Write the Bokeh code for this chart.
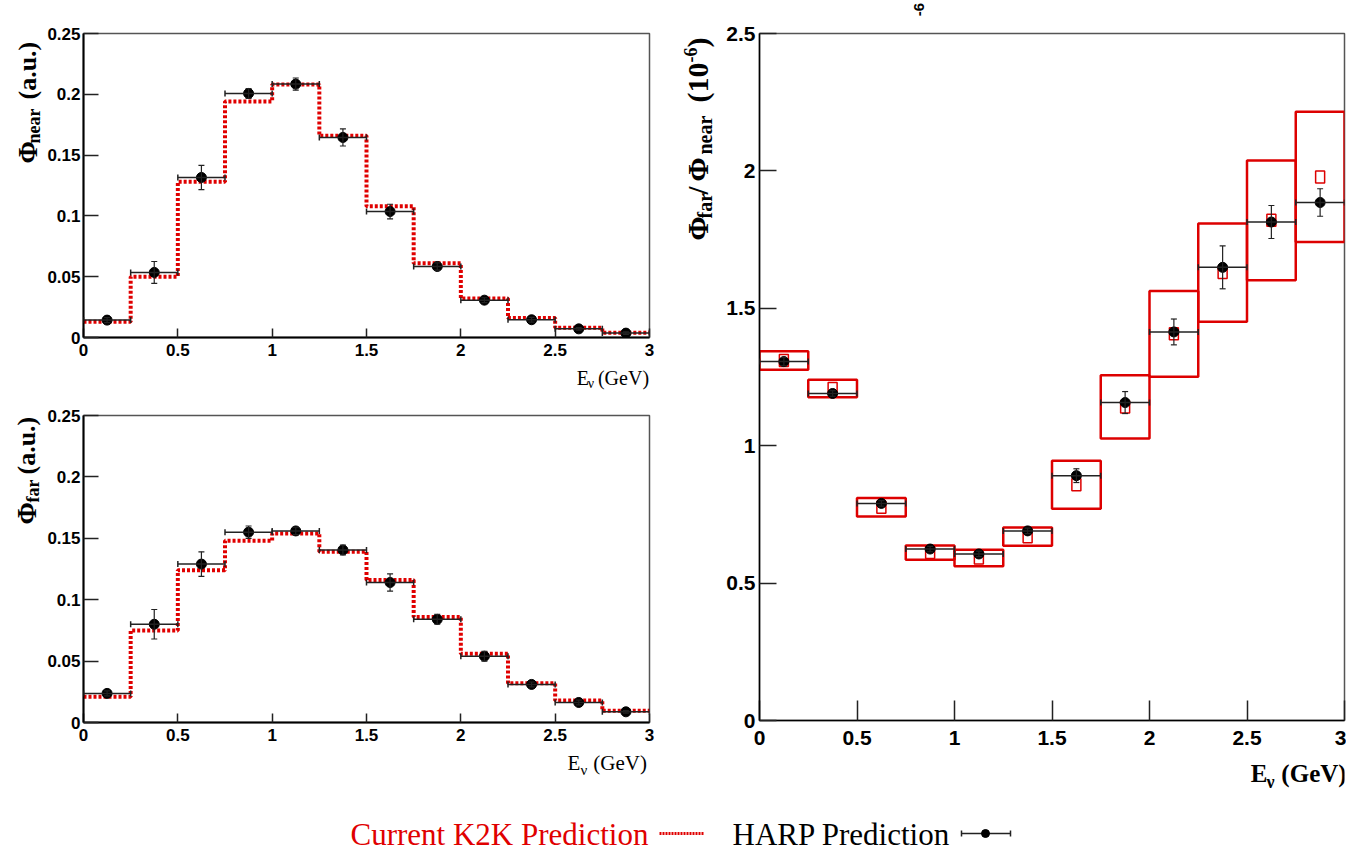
import math
from bokeh.plotting import figure
from bokeh.models import (Range1d, FixedTicker, CustomJSTickFormatter, Label,
                          Whisker, TeeHead, ColumnDataSource)
from bokeh.layouts import row, column
from bokeh.embed import file_html
from bokeh.resources import INLINE

# ---------------- data ----------------
energy_edges = [0.0, 0.25, 0.5, 0.75, 1.0, 1.25, 1.5, 1.75, 2.0, 2.25, 2.5, 2.75, 3.0]

k2k_near = [0.013, 0.050, 0.128, 0.194, 0.208, 0.166, 0.108, 0.061, 0.032, 0.016, 0.008, 0.004]
harp_near = [0.0143, 0.0535, 0.1316, 0.2007, 0.2084, 0.1645, 0.1036, 0.0584, 0.0307, 0.0146, 0.0071, 0.0036]
harp_near_err = [0.002, 0.009, 0.010, 0.004, 0.005, 0.007, 0.006, 0.003, 0.002, 0.002, 0.001, 0.001]

k2k_far = [0.021, 0.075, 0.124, 0.148, 0.154, 0.139, 0.116, 0.086, 0.056, 0.032, 0.018, 0.0095]
harp_far = [0.0237, 0.080, 0.129, 0.155, 0.156, 0.1405, 0.114, 0.084, 0.054, 0.031, 0.0163, 0.0087]
harp_far_err = [0.002, 0.012, 0.010, 0.005, 0.003, 0.004, 0.007, 0.004, 0.004, 0.002, 0.002, 0.001]

k2k_ratio = [1.310, 1.208, 0.776, 0.611, 0.591, 0.669, 0.858, 1.141, 1.407, 1.630, 1.820, 1.978]
k2k_ratio_err = [0.034, 0.032, 0.034, 0.026, 0.030, 0.033, 0.087, 0.115, 0.156, 0.179, 0.218, 0.237]
harp_ratio = [1.306, 1.190, 0.790, 0.624, 0.606, 0.690, 0.891, 1.157, 1.414, 1.649, 1.814, 1.885]
harp_ratio_err = [0.015, 0.010, 0.010, 0.010, 0.010, 0.010, 0.025, 0.040, 0.047, 0.078, 0.060, 0.050]

x_ticks = [0, 0.5, 1, 1.5, 2, 2.5, 3]
flux_ticks = [0, 0.05, 0.1, 0.15, 0.2, 0.25]
ratio_ticks = [0, 0.5, 1, 1.5, 2, 2.5]

legend_k2k = "Current K2K Prediction"
legend_harp = "HARP Prediction"

# ---------------- style ----------------
RED = "#e00000"
BOX_RED = "#dd0000"
BAR = "#222222"
SERIF = "Liberation Serif"
SANS = "Liberation Sans"
R = math.pi / 2

centers = [(a + b) / 2 for a, b in zip(energy_edges[:-1], energy_edges[1:])]
lo_edges = energy_edges[:-1]
hi_edges = energy_edges[1:]


def style_axes(p, xtick_in, ytick_in, label_size, lw, xstand, ystand, xticks, yticks):
    p.xaxis.ticker = FixedTicker(ticks=xticks)
    p.yaxis.ticker = FixedTicker(ticks=yticks)
    for ax in (p.xaxis[0], p.yaxis[0]):
        ax.major_tick_out = 0
        ax.minor_tick_in = 0
        ax.minor_tick_out = 0
        ax.axis_line_width = lw
        ax.axis_line_color = "black"
        ax.major_tick_line_width = 1.5
        ax.major_tick_line_color = "#222222"
        ax.major_label_text_font = SANS
        ax.major_label_text_font_style = "bold"
        ax.major_label_text_font_size = f"{label_size}px"
        ax.major_label_text_color = "black"
        ax.formatter = CustomJSTickFormatter(code="return tick.toString();")
    p.xaxis.major_tick_in = xtick_in
    p.yaxis.major_tick_in = ytick_in
    p.xaxis.major_label_standoff = xstand
    p.yaxis.major_label_standoff = ystand
    p.grid.visible = False
    p.outline_line_color = "#555555"
    p.outline_line_width = 1.5
    p.background_fill_color = "white"
    p.border_fill_color = "white"


def text_strip(x0, y0, w, h):
    """An axis-less strip whose coordinates are page pixels (y grows downward)."""
    f = figure(width=w, height=h, x_range=Range1d(x0, x0 + w), y_range=Range1d(y0 + h, y0),
               min_border=0, toolbar_location=None, output_backend="svg",
               x_axis_location=None, y_axis_location=None)
    f.grid.visible = False
    f.outline_line_color = None
    f.background_fill_color = "white"
    f.border_fill_color = "white"
    return f


def lab(f, x, y, text, size, font=SERIF, style="bold", color="black",
        angle=0.0, align="left"):
    f.add_layout(Label(x=x, y=y, text=text, text_font=font, text_font_size=f"{size}px",
                       text_font_style=style, text_color=color, angle=angle,
                       text_align=align, text_baseline="middle"))


def harp_layers(p, vals, errs, cap, dot):
    src = ColumnDataSource(dict(
        x=centers, y=vals,
        ylo=[v - e for v, e in zip(vals, errs)],
        yhi=[v + e for v, e in zip(vals, errs)],
        xlo=lo_edges, xhi=hi_edges))
    p.add_layout(Whisker(source=src, base="y", lower="xlo", upper="xhi",
                         dimension="width", line_color=BAR, line_width=1.5,
                         lower_head=TeeHead(size=cap, line_color=BAR, line_width=1.5),
                         upper_head=TeeHead(size=cap, line_color=BAR, line_width=1.5),
                         level="overlay"))
    p.add_layout(Whisker(source=src, base="x", lower="ylo", upper="yhi",
                         dimension="height", line_color=BAR, line_width=1.2,
                         lower_head=TeeHead(size=6, line_color=BAR, line_width=1.2),
                         upper_head=TeeHead(size=6, line_color=BAR, line_width=1.2),
                         level="overlay"))
    p.scatter("x", "y", source=src, size=dot, color="black")


def flux_panel(k2k, harp, harp_err, fh, top, bottom):
    p = figure(frame_width=566, frame_height=fh, x_range=Range1d(0, 3),
               y_range=Range1d(0, 0.25), min_border_left=39, min_border_right=10,
               min_border_top=top, min_border_bottom=bottom,
               toolbar_location=None, output_backend="svg")
    p.step(energy_edges, k2k + [k2k[-1]], mode="after", line_color=RED,
           line_width=4, line_dash="3 2")
    harp_layers(p, harp, harp_err, 6, 10)
    style_axes(p, 9, 15, 17, 2, 6, 3, x_ticks, flux_ticks)
    return p


# ---------------- near flux (page x 44..659, y 0..395) ----------------
p1 = flux_panel(k2k_near, harp_near, harp_near_err, 304, 33, 28)
yt1 = text_strip(0, 0, 44, 395)
lab(yt1, 27, 163, "\u03a6", 27, angle=R)
lab(yt1, 33, 143, "near", 18, angle=R)
lab(yt1, 27, 99, "(a.u.)", 26, angle=R)
xt1 = text_strip(44, 365, 615, 30)
lab(xt1, 580, 377, "E", 20, style="normal")
lab(xt1, 592, 383, "\u03bd", 14, style="normal")
lab(xt1, 603, 377, "(GeV)", 20, style="normal")

# ---------------- far flux (page x 44..659, y 395..795) ----------------
p2 = flux_panel(k2k_far, harp_far, harp_far_err, 307, 20, 28)
yt2 = text_strip(0, 395, 44, 400)
lab(yt2, 26, 524, "\u03a6", 27, angle=R)
lab(yt2, 32, 502, "far", 18, angle=R)
lab(yt2, 26, 474, "(a.u.)", 26, angle=R)
xt2 = text_strip(44, 750, 615, 45)
lab(xt2, 570, 762, "E", 21, style="normal")
lab(xt2, 584, 769, "\u03bd", 15, style="normal")
lab(xt2, 598, 762, "(GeV)", 21, style="normal")

# ---------------- far/near ratio (page x 716..1346) ----------------
p3 = figure(frame_width=585, frame_height=687, x_range=Range1d(0, 3),
            y_range=Range1d(0, 2.5), min_border_left=43, min_border_right=2,
            min_border_top=15, min_border_bottom=35,
            toolbar_location=None, output_backend="svg")
p3.quad(left=lo_edges, right=hi_edges,
        bottom=[v - e for v, e in zip(k2k_ratio, k2k_ratio_err)],
        top=[v + e for v, e in zip(k2k_ratio, k2k_ratio_err)],
        fill_color=None, line_color=BOX_RED, line_width=2.5)
p3.rect(x=centers, y=k2k_ratio, width=9, height=12, width_units="screen",
        height_units="screen", fill_color=None, line_color=BOX_RED, line_width=1.5)
harp_layers(p3, harp_ratio, harp_ratio_err, 6, 10)
style_axes(p3, 20, 17, 21, 1.5, 10, 4, x_ticks, ratio_ticks)

yt3 = text_strip(659, 0, 57, 795)
lab(yt3, 697, 240, "\u03a6", 29, angle=R)
lab(yt3, 704, 218, "far", 20, angle=R)
lab(yt3, 697, 194, "/", 29, angle=R)
lab(yt3, 697, 181, "\u03a6", 29, angle=R)
lab(yt3, 704, 154, "near", 20, angle=R)
lab(yt3, 697, 102, "(10", 30, angle=R)
lab(yt3, 690, 62, "-6", 18, angle=R)
lab(yt3, 697, 47, ")", 30, angle=R)

tt3 = text_strip(716, 0, 630, 18)
lab(tt3, 888, 9, "-6", 15, font=SANS, angle=R, align="center")

xt3 = text_strip(716, 755, 630, 40)
lab(xt3, 1245, 773, "E", 25)
lab(xt3, 1262, 781, "\u03bd", 18)
lab(xt3, 1278, 773, "(GeV)", 25)

# ---------------- legend strip (page y 795..854) ----------------
leg = text_strip(0, 795, 1346, 59)
lab(leg, 350, 834, legend_k2k, 31, style="normal", color=RED)
lab(leg, 732, 834, legend_harp, 31, style="normal")
leg.line([659, 703], [833, 833], line_color=RED, line_width=3, line_dash="2 1")
leg.line([961, 1010], [833, 833], line_color=BAR, line_width=1.5)
leg.segment(x0=[961, 1010], y0=[830, 830], x1=[961, 1010], y1=[836, 836],
            line_color=BAR, line_width=1.5)
leg.scatter([985], [833], size=8, color="black")

left_col = column(row(yt1, column(p1, xt1)), row(yt2, column(p2, xt2)))
right_col = row(yt3, column(tt3, p3, xt3))
layout = column(row(left_col, right_col), leg)

with open("out.html", "w") as f:
    f.write(file_html(layout, INLINE))
